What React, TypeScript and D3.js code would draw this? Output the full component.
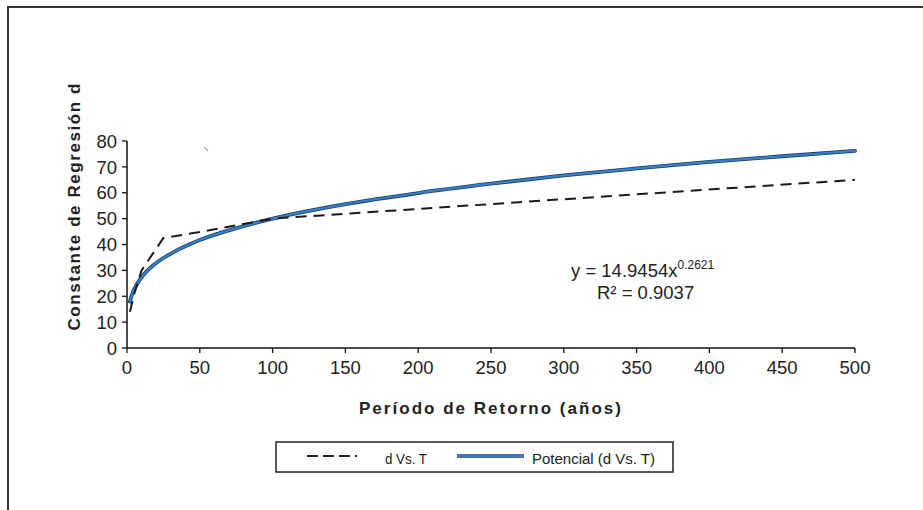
import * as d3 from "d3";

// d Vs. T (observed points)
const periods = [2, 5, 10, 25, 50, 100, 500];
const dValues = [14, 21, 30, 42.5, 44.8, 50, 65];

// Potencial (d Vs. T) trend line
const trendT = [2, 3, 5, 10, 20, 30, 50, 75, 100, 150, 200, 250, 300, 350, 400, 450, 500];
const trendD = [17.9, 19.9, 22.8, 27.3, 32.8, 36.4, 41.7, 46.3, 50, 55.6, 59.9, 63.5, 66.7, 69.4, 71.9, 74.1, 76.2];

const xTicks = [0, 50, 100, 150, 200, 250, 300, 350, 400, 450, 500];
const yTicks = [0, 10, 20, 30, 40, 50, 60, 70, 80];

const width = 923;
const height = 510;
const plot = { left: 127, right: 855, top: 141, bottom: 348 };
const font = "Arial, 'Liberation Sans', sans-serif";

export default function App() {
  const x = d3.scaleLinear().domain([0, 500]).range([plot.left, plot.right]);
  const y = d3.scaleLinear().domain([0, 80]).range([plot.bottom, plot.top]);

  const obsLine = d3
    .line<number>()
    .x((_, i) => x(periods[i]))
    .y((v) => y(v))(dValues);

  const trendLine = d3
    .line<number>()
    .x((_, i) => x(trendT[i]))
    .y((v) => y(v))
    .curve(d3.curveMonotoneX)(trendD);

  return (
    <svg
      width={width}
      height={height}
      style={{ position: "absolute", left: 0, top: 0, background: "#fff" }}
      fontFamily={font}
    >
      {/* outer frame (left + top visible) */}
      <line x1={8} x2={8} y1={6} y2={510} stroke="#333" strokeWidth={2} />
      <line x1={7} x2={923} y1={7} y2={7} stroke="#333" strokeWidth={2} />

      {/* y axis */}
      <line x1={plot.left} x2={plot.left} y1={plot.top} y2={plot.bottom} stroke="#111" strokeWidth={1.5} />
      {yTicks.map((t) => (
        <g key={t}>
          <line x1={plot.left - 5} x2={plot.left} y1={y(t)} y2={y(t)} stroke="#111" strokeWidth={1.3} />
          <text x={117} y={y(t)} dy="0.36em" textAnchor="end" fontSize={18.5} fill="#222">
            {t}
          </text>
        </g>
      ))}

      {/* x axis */}
      <line x1={plot.left} x2={plot.right} y1={plot.bottom} y2={plot.bottom} stroke="#111" strokeWidth={1.5} />
      {xTicks.map((t) => (
        <g key={t}>
          <line x1={x(t)} x2={x(t)} y1={plot.bottom} y2={plot.bottom + 5} stroke="#111" strokeWidth={1.3} />
          <text x={x(t)} y={374} textAnchor="middle" fontSize={18.5} fill="#222">
            {t}
          </text>
        </g>
      ))}

      {/* axis titles */}
      <text x={490} y={414} textAnchor="middle" fontSize={17} fontWeight={700} fill="#222" textLength={262}>
        Período de Retorno (años)
      </text>
      <text
        transform="translate(80,207) rotate(-90)"
        textAnchor="middle"
        fontSize={17}
        fontWeight={700}
        fill="#222"
        textLength={247}
      >
        Constante de Regresión d
      </text>

      {/* small scan mark */}
      <line x1={204} x2={208} y1={147} y2={151} stroke="#aaa" strokeWidth={1.2} />

      {/* trend line */}
      <path d={trendLine ?? ""} fill="none" stroke="#1d3c63" strokeWidth={3.8} strokeLinecap="round" />
      <path d={trendLine ?? ""} fill="none" stroke="#3580c6" strokeWidth={2.2} strokeLinecap="round" />

      {/* observed data */}
      <path d={obsLine ?? ""} fill="none" stroke="#1a1a1a" strokeWidth={2} strokeDasharray="11,7" />

      {/* equation */}
      <text x={571} y={277} fontSize={18.5} fill="#222">
        y = 14.9454x
        <tspan fontSize={12} dy={-8}>
          0.2621
        </tspan>
      </text>
      <text x={597} y={299} fontSize={18.5} fill="#222">
        R² = 0.9037
      </text>

      {/* legend */}
      <rect x={276} y={442} width={397} height={30} fill="#fff" stroke="#222" strokeWidth={1.5} />
      <line x1={307} x2={380} y1={456} y2={456} stroke="#222" strokeWidth={2} strokeDasharray="11,5,11,5,11,5,2,30" />
      <text x={385} y={464} fontSize={14} fill="#222" textLength={42} lengthAdjust="spacingAndGlyphs">
        d Vs. T
      </text>
      <line x1={457} x2={524} y1={456} y2={456} stroke="#1d3c63" strokeWidth={3.4} />
      <line x1={457} x2={524} y1={456} y2={456} stroke="#3580c6" strokeWidth={1.8} />
      <text x={532} y={464} fontSize={14} fill="#222" textLength={123} lengthAdjust="spacingAndGlyphs">
        Potencial (d Vs. T)
      </text>
    </svg>
  );
}
